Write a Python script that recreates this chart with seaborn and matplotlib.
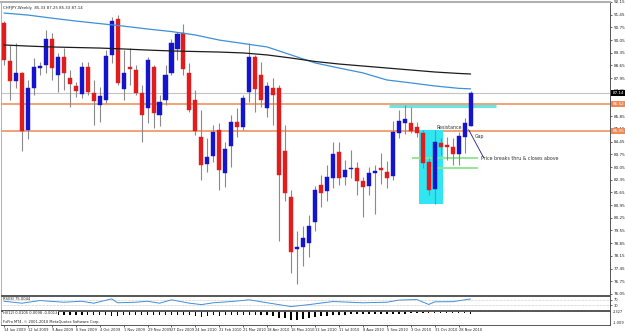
import matplotlib
matplotlib.use("Agg")
import matplotlib.pyplot as plt
import matplotlib.transforms as mtransforms
import seaborn as sns

title_text = "CHFJPY,Weekly  85.33 87.25 85.33 87.14"

# weekly candles, 14 Jun 2009 .. 12 Dec 2010
opens = [90.99, 88.90, 87.80, 88.24, 85.11, 87.41, 88.51, 88.68, 90.11, 88.13,
         89.12, 87.96, 87.52, 87.09, 88.57, 87.14, 86.48, 86.76, 89.23, 91.21,
         87.36, 88.57, 88.40, 87.14, 86.32, 88.57, 85.93, 86.76, 88.24, 89.56,
         90.44, 88.24, 86.76, 84.72, 83.24, 83.68, 85.11, 82.74, 84.23, 85.55,
         85.27, 87.19, 89.12, 88.13, 86.32, 87.41, 87.41, 83.95, 81.37, 78.51,
         78.62, 78.84, 80.00, 82.08, 81.70, 82.47, 83.90, 82.52, 82.96, 83.02,
         82.30, 82.03, 82.74, 83.02, 82.80, 82.58, 84.94, 85.49, 85.49, 85.27,
         84.94, 83.35, 81.86, 84.39, 84.28, 84.17, 83.79, 84.72, 85.33]
highs = [91.10, 89.78, 89.89, 88.29, 87.85, 89.06, 88.84, 90.60, 90.44, 89.34,
         89.61, 88.40, 87.74, 88.84, 88.84, 87.85, 87.47, 89.50, 91.32, 91.43,
         89.50, 89.61, 88.68, 87.58, 89.12, 88.68, 87.03, 88.68, 90.11, 90.49,
         90.93, 88.79, 87.30, 86.21, 84.67, 85.38, 85.49, 84.45, 85.93, 86.32,
         87.03, 89.89, 89.23, 88.84, 87.74, 87.96, 87.58, 85.38, 81.81, 79.50,
         79.78, 80.38, 82.03, 82.63, 83.18, 84.45, 84.45, 83.46, 84.01, 83.35,
         82.52, 83.07, 83.18, 83.84, 83.40, 85.60, 86.21, 86.48, 86.37, 85.55,
         85.11, 83.57, 85.11, 84.67, 84.72, 84.67, 85.00, 85.77, 87.25]
lows = [88.68, 86.76, 87.41, 83.95, 84.61, 87.03, 88.13, 88.24, 87.85, 87.19,
        87.30, 86.37, 86.92, 86.87, 87.03, 85.38, 85.55, 86.59, 88.79, 87.58,
        86.76, 87.58, 87.03, 84.45, 85.49, 85.22, 85.33, 86.48, 88.13, 88.95,
        88.13, 86.10, 84.83, 82.36, 82.80, 83.35, 81.81, 81.97, 83.07, 84.72,
        85.11, 86.65, 86.10, 86.37, 85.82, 85.38, 78.95, 81.15, 77.19, 76.59,
        77.58, 78.07, 79.50, 80.82, 81.15, 81.92, 82.08, 82.08, 82.47, 81.53,
        80.27, 81.53, 80.44, 82.14, 81.92, 82.36, 84.67, 84.89, 84.94, 84.72,
        83.02, 81.53, 80.99, 83.73, 83.46, 83.18, 83.18, 83.84, 85.33]
closes = [88.95, 87.80, 88.24, 85.05, 87.41, 88.57, 88.62, 90.11, 88.51, 89.12,
          88.24, 87.63, 87.25, 88.57, 87.19, 86.70, 86.98, 89.17, 91.10, 87.69,
          88.24, 88.46, 87.14, 85.93, 88.95, 86.04, 86.65, 88.13, 89.89, 90.38,
          88.46, 86.21, 85.05, 83.18, 83.62, 85.00, 82.91, 84.06, 85.55, 85.27,
          86.87, 89.12, 87.36, 86.76, 87.52, 87.03, 82.63, 81.64, 78.35, 78.62,
          79.12, 79.78, 81.81, 81.64, 82.52, 83.79, 82.47, 82.91, 83.02, 82.30,
          81.97, 82.74, 82.85, 82.91, 82.47, 85.00, 85.60, 85.71, 85.05, 84.94,
          83.29, 81.81, 84.45, 84.17, 84.17, 83.79, 84.78, 85.49, 87.14]

# moving averages read every 4th bar
ma_idx = [0, 4, 8, 12, 16, 20, 24, 28, 32, 36, 40, 44, 48, 52, 56, 60, 64, 68, 72, 76, 78]
ma_fast = [91.54, 91.43, 91.26, 91.10, 90.96, 90.82, 90.66, 90.52, 90.33, 90.05, 89.86,
           89.67, 89.23, 88.79, 88.51, 88.24, 87.85, 87.69, 87.52, 87.39, 87.36]
ma_slow = [89.78, 89.72, 89.67, 89.64, 89.61, 89.56, 89.50, 89.45, 89.42, 89.39, 89.34,
           89.23, 89.06, 88.87, 88.73, 88.62, 88.51, 88.40, 88.29, 88.21, 88.18]

rsi_idx = [0, 3, 6, 10, 13, 15, 18, 19, 22, 24, 26, 28, 31, 33, 35, 38, 41, 44, 48,
           51, 55, 60, 64, 66, 68, 69, 71, 72, 75, 78]
rsi_val = [59, 45, 64, 52, 59, 45, 76, 48, 52, 59, 45, 69, 45, 35, 48, 57, 69, 48, 21,
           35, 57, 48, 52, 67, 70, 71, 36, 55, 56, 75]

hist_val = [3, 3, 3, 3, 4, 3, 3, 3, 3, 3,
            3, 3, 3, 3, 3, 3, 3, 3, 4, 4,
            3, 3, 3, 3, 3, 3, 3, 3, 3, 3,
            3, 3, 4, 5, 4, 3, 4, 3, 3, 3,
            3, 3, 3, 3, 3, 4, 6, 6, 8, 8,
            7, 6, 5, 4, 4, 3, 3, 3, 2, 2,
            2, 2, 2, 2, 2, 2, 2, 2, 1, 1,
            1, 1, 1, 1, 1, 1, 1, 1, 2]

date_labels = ["14 Jun 2009", "12 Jul 2009", "9 Aug 2009", "6 Sep 2009", "4 Oct 2009",
               "1 Nov 2009", "29 Nov 2009", "27 Dec 2009", "24 Jan 2010", "21 Feb 2010",
               "21 Mar 2010", "18 Apr 2010", "16 May 2010", "13 Jun 2010", "11 Jul 2010",
               "8 Aug 2010", "5 Sep 2010", "3 Oct 2010", "31 Oct 2010", "28 Nov 2010"]
date_idx = [0, 4, 8, 12, 16, 20, 24, 28, 32, 36, 40, 44, 48, 52, 56, 60, 64, 68, 72, 76]

price_ticks = [92.15, 91.45, 90.75, 90.05, 89.35, 88.65, 87.95, 87.25, 86.55, 85.85,
               85.15, 84.45, 83.75, 83.05, 82.35, 81.65, 80.95, 80.25, 79.55, 78.85,
               78.15, 77.45, 76.75, 76.05]

last_price = 87.14
level_hi = 86.52
level_lo = 85.05

UP = "#1414cc"
DOWN = "#e01c1c"
WICK = "#8a8a8a"
ORANGE = "#ee8855"

sns.set_style("white")
plt.rcParams['font.family'] = ['DejaVu Sans']

W, H = 625, 331
fig = plt.figure(figsize=(W / 100, H / 100), dpi=100)


def rect(x0, y0, x1, y1):
    return [x0 / W, 1 - y1 / H, (x1 - x0) / W, (y1 - y0) / H]


ax = fig.add_axes(rect(1, 2, 610, 294.5))
ax_rsi = fig.add_axes(rect(1, 295.5, 610, 309.5))
ax_low = fig.add_axes(rect(1, 310.5, 610, 324.5))

xlim = (-0.5, 101.3)
n = len(opens)
xs = list(range(n))

# price area decorations
ax.axhline(last_price, color="#c4c4c4", lw=0.8, zorder=1)
ax.axhline(level_hi, color=ORANGE, lw=1.1, zorder=1)
ax.axhline(level_lo, color=ORANGE, lw=1.1, zorder=1)
ax.hlines(86.44, 64.3, 82.3, color="#66e6e6", lw=2.2, zorder=2)
ax.add_patch(plt.Rectangle((69.35, 80.99), 4.0, 85.11 - 80.99, color="#2fe6f2", lw=0, zorder=2))
ax.hlines(83.57, 68.2, 79.3, color="#8ee48e", lw=1.3, zorder=2)
ax.hlines(83.02, 70.8, 79.3, color="#8ee48e", lw=1.3, zorder=2)

# candles
ax.vlines(xs, lows, highs, color=WICK, lw=0.8, zorder=3)
body_lo = [min(o, c) for o, c in zip(opens, closes)]
body_h = [max(abs(c - o), 0.06) for o, c in zip(opens, closes)]
cols = [UP if c >= o else DOWN for o, c in zip(opens, closes)]
ax.bar(xs, body_h, bottom=body_lo, width=0.68, color=cols, edgecolor=cols, lw=0.3, zorder=4)

sns.lineplot(x=ma_idx, y=ma_fast, ax=ax, color="#3f8fd8", lw=0.9, zorder=5)
sns.lineplot(x=ma_idx, y=ma_slow, ax=ax, color="#1c1c1c", lw=0.9, zorder=5)

# annotations
ax.plot([77.67, 80.17], [85.11, 83.57], color="#1c1c8c", lw=0.6, zorder=6)
ax.text(72.3, 85.22, "Resistance", fontsize=3.4, color="#333333", va="center", zorder=6)
ax.text(78.7, 84.72, "Gap", fontsize=3.4, color="#333333", va="center", zorder=6)
ax.text(79.7, 83.51, "Price breaks thru & closes above", fontsize=3.4, color="#333333",
        va="center", zorder=6)
ax.text(0.004, 0.985, title_text, transform=ax.transAxes, fontsize=2.8, color="#222222",
        va="top", ha="left")

ax.set_xlim(xlim)
ax.set_ylim(76.02, 92.14)
ax.set_xticks([])
ax.yaxis.tick_right()
ax.set_yticks(price_ticks)
ax.set_yticklabels([f"{t:.2f}" for t in price_ticks])
ax.tick_params(axis="y", labelsize=3, length=1.5, width=0.5, pad=1, colors="#222222",
               right=True)

trans = mtransforms.blended_transform_factory(ax.transAxes, ax.transData)
for val, bg in [(last_price, "black"), (level_hi, ORANGE), (level_lo, ORANGE)]:
    ax.text(1.004, val, f"{val:.2f}", transform=trans, fontsize=3, color="white",
            va="center", ha="left", zorder=10, clip_on=False,
            bbox=dict(boxstyle="square,pad=0.25", fc=bg, ec=bg, lw=0))

# RSI panel
sns.lineplot(x=rsi_idx, y=rsi_val, ax=ax_rsi, color="#3f8fd8", lw=0.7)
for lvl in (70, 30):
    ax_rsi.axhline(lvl, color="#9a9a9a", lw=0.4, ls=(0, (1, 1.5)))
ax_rsi.set_xlim(xlim)
ax_rsi.set_ylim(0, 100)
ax_rsi.set_xticks([])
ax_rsi.yaxis.tick_right()
ax_rsi.set_yticks([70, 30])
ax_rsi.tick_params(axis="y", labelsize=2.6, length=1.5, width=0.5, pad=1, right=True)
ax_rsi.text(0.004, 0.92, "RSI(8) 75.0044", transform=ax_rsi.transAxes, fontsize=2.6,
            va="top", color="#222222")

# lower histogram panel
ax_low.bar(xs, hist_val, width=0.25, color="black", lw=0)
ax_low.set_xlim(xlim)
ax_low.set_ylim(13, -1.5)
ax_low.set_yticks([])
ax_low.text(1.004, 0.9, "2.327", transform=ax_low.transAxes, fontsize=2.6, va="center")
ax_low.text(1.004, 0.1, "-1.009", transform=ax_low.transAxes, fontsize=2.6, va="center")
ax_low.text(0.004, 0.95, "HI(12) 0.0105 0.0098 -0.0013", transform=ax_low.transAxes,
            fontsize=2.6, va="top", color="#222222",
            bbox=dict(fc="white", ec="none", pad=0.3))
ax_low.text(0.004, 0.2, "FxPro MT4, \u00a9 2001-2010 MetaQuotes Software Corp.",
            transform=ax_low.transAxes, fontsize=2.6, va="center", color="#222222")
ax_low.set_xticks(date_idx)
ax_low.set_xticklabels(date_labels, ha="left")
ax_low.tick_params(axis="x", labelsize=2.6, length=1.5, width=0.5, pad=0.8, bottom=True)

for a in (ax, ax_rsi, ax_low):
    for s in a.spines.values():
        s.set_color("#555555")
        s.set_linewidth(0.7)
    a.spines["left"].set_color("#b0b0b0")
ax.spines["top"].set_color("#b0b0b0")
ax.spines["top"].set_linewidth(1.5)

fig.savefig("out.png", dpi=100, facecolor="white")
